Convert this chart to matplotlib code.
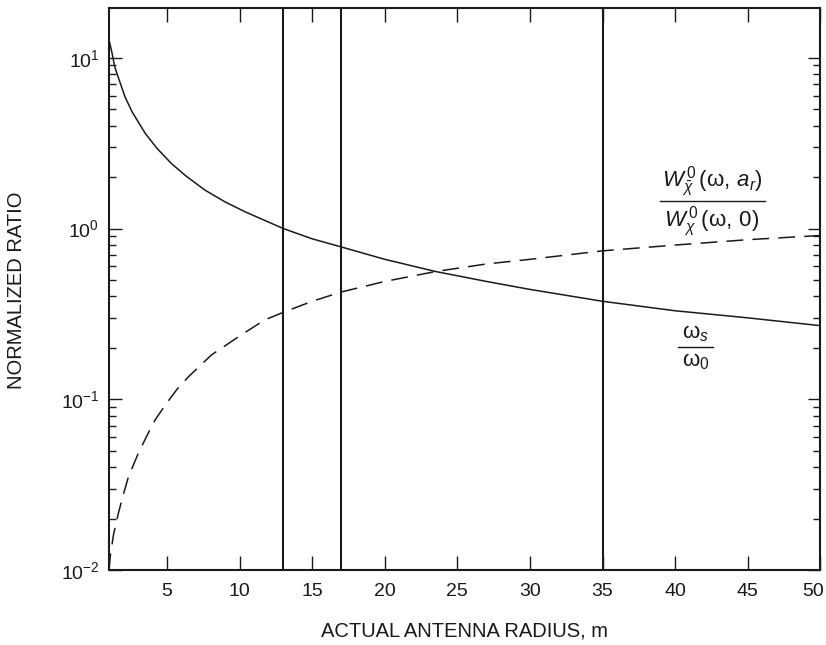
import matplotlib
matplotlib.use("Agg")
import matplotlib.pyplot as plt
from matplotlib.lines import Line2D
from matplotlib.ticker import FixedLocator
from matplotlib.transforms import ScaledTranslation

# --------------------------
# Data
# --------------------------
radius_solid = [1.0, 1.2, 1.4, 1.7, 2.1, 2.6, 3.5, 4.3, 5.3, 6.3, 7.6, 9.0,
                10.4, 13, 15, 17, 20, 23.5, 27, 30, 35, 40, 45, 50]
freq_ratio = [12.7, 10.7, 8.8, 7.4, 5.9, 4.8, 3.6, 2.95, 2.4, 2.03, 1.68, 1.43,
              1.25, 1.0, 0.87, 0.78, 0.66, 0.56, 0.49, 0.44, 0.375, 0.33, 0.30, 0.27]

radius_dashed = [1.0, 1.08, 1.3, 1.64, 2.0, 2.33, 3.0, 3.6, 4.16, 4.97, 5.7, 6.45,
                 8.06, 9.9, 11.7, 13, 15, 17, 20, 23.5, 27, 30, 35, 40, 45, 50]
w_ratio = [0.0100, 0.0120, 0.0160, 0.0215, 0.028, 0.035, 0.048, 0.061, 0.0755,
           0.095, 0.115, 0.135, 0.182, 0.232, 0.291, 0.323, 0.375, 0.425, 0.49,
           0.56, 0.62, 0.66, 0.74, 0.80, 0.86, 0.91]

marker_radii = [13, 17, 35]
x_ticks = [5, 10, 15, 20, 25, 30, 35, 40, 45, 50]

# --------------------------
# Plot
# --------------------------
plt.rcParams['font.family'] = ['Liberation Sans', 'DejaVu Sans']
plt.rcParams['mathtext.fontset'] = 'custom'
plt.rcParams['mathtext.rm'] = 'Liberation Sans'
plt.rcParams['mathtext.it'] = 'Liberation Sans:italic'

INK = '#1a1a1a'
W, H = 826, 645

fig = plt.figure(figsize=(W / 100, H / 100), dpi=100)
ax = fig.add_axes([0.132, 0.116, 0.861, 0.872])

ax.plot(radius_solid, freq_ratio, color=INK, lw=1.1)
ax.plot(radius_dashed, w_ratio, color=INK, lw=1.1, linestyle=(0, (11, 6)))
for r in marker_radii:
    ax.axvline(r, color=INK, lw=1.5)

ax.set_yscale('log')
ax.set_xlim(1, 50)
ax.set_ylim(0.01, 19.6)
ax.xaxis.set_major_locator(FixedLocator(x_ticks))
ax.set_yticks([0.01, 0.1, 1, 10])

ax.tick_params(which='both', direction='in', top=True, right=True,
               color=INK, labelsize=14, labelcolor=INK)
ax.tick_params(which='major', length=9, width=1.0, pad=7)
ax.tick_params(which='minor', length=5, width=1.0)
ax.tick_params(axis='x', which='major', length=10, pad=9)
for s in ax.spines.values():
    s.set_linewidth(1.5)
    s.set_color(INK)

# last x label sits a bit left so it stays inside the figure
fig.canvas.draw()
last = ax.get_xticklabels()[-1]
last.set_transform(last.get_transform() + ScaledTranslation(-7 / 100, 0, fig.dpi_scale_trans))

ax.set_xlabel('ACTUAL ANTENNA RADIUS, m', fontsize=14.5, color=INK, labelpad=16)
fig.text(17 / W, 1 - 290 / H, 'NORMALIZED RATIO', rotation=90, fontsize=14.5,
         color=INK, ha='center', va='center')


def ftext(x, y, s):
    fig.text(x / W, 1 - y / H, s, fontsize=16, ha='center', va='center', color=INK)


def fline(x0, x1, y):
    fig.add_artist(Line2D([x0 / W, x1 / W], [1 - y / H, 1 - y / H], color=INK, lw=1.0))


# curve labels
ftext(712, 182, r'$W^{\,0}_{\bar{\chi}}\,(\mathrm{\omega},\,a_r)$')
ftext(712, 222, r'$W^{\,0}_{\chi}\,(\mathrm{\omega},\,0)$')
fline(660, 765, 201)

ftext(696, 333, r'$\mathrm{\omega}_s$')
ftext(696, 362, r'$\mathrm{\omega}_0$')
fline(678, 713, 347)

fig.savefig('out.png', dpi=100)
